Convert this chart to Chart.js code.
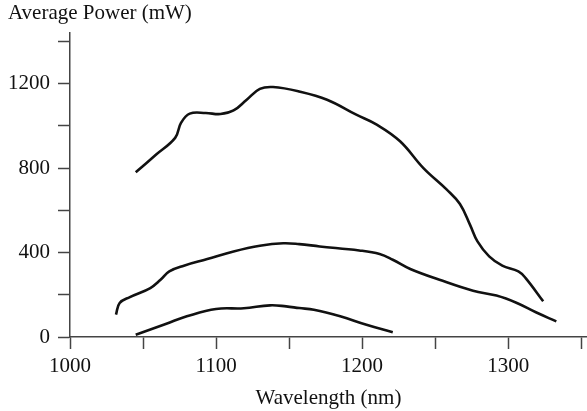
<!DOCTYPE html>
<html>
<head>
<meta charset="utf-8">
<script src="https://cdn.jsdelivr.net/npm/chart.js@4"></script>
<style>
  html, body { margin: 0; padding: 0; background: #fff; }
  #wrap { width: 587px; height: 411px; position: relative; }
</style>
</head>
<body>
<div id="wrap"><canvas id="powerChart"></canvas></div>
<script>
// Curve data (wavelength nm, power mW)
const topWave = [1045, 1059, 1072, 1076, 1082, 1093, 1103, 1112, 1121, 1130, 1139, 1157, 1176, 1196, 1210, 1226, 1242, 1258, 1267, 1274, 1279, 1287, 1296, 1307, 1312, 1324];
const topPower = [780, 864, 943, 1014, 1058, 1061, 1056, 1073, 1124, 1175, 1184, 1163, 1124, 1053, 1006, 927, 800, 698, 630, 530, 453, 382, 338, 311, 279, 169];

const midWave = [1031.5, 1034, 1041, 1055, 1062, 1068, 1078, 1094, 1112, 1130, 1146, 1157, 1171, 1198, 1212, 1221, 1233, 1253, 1276, 1292, 1306, 1319, 1333];
const midPower = [106, 161, 189, 232, 271, 311, 338, 369, 405, 432, 444, 440, 429, 410, 393, 366, 322, 271, 219, 196, 161, 117, 74];

const botWave = [1045, 1066, 1080, 1100, 1119, 1137, 1148, 1157, 1167, 1185, 1203, 1221];
const botPower = [11, 63, 98, 133, 136, 150, 145, 137, 129, 98, 58, 22];

const xTicks = [1000, 1050, 1100, 1150, 1200, 1250, 1300, 1350];
const xLabels = [1000, 1100, 1200, 1300];
const yTicks = [0, 200, 400, 600, 800, 1000, 1200, 1400];
const yLabels = [0, 400, 800, 1200];

const serif = { family: 'Liberation Serif', size: 21 };
const axisColor = '#444';

function pts(xs, ys) {
  return xs.map((x, i) => ({ x: x, y: ys[i] }));
}

function curve(xs, ys) {
  return {
    data: pts(xs, ys),
    showLine: true,
    borderColor: '#111',
    borderWidth: 2.6,
    pointRadius: 0,
    fill: false,
    tension: 0.4,
    borderCapStyle: 'butt'
  };
}

// y-axis caption sits above the plot, top-left
const captionPlugin = {
  id: 'caption',
  afterDraw(chart) {
    const ctx = chart.ctx;
    ctx.save();
    ctx.font = '21px "Liberation Serif"';
    ctx.fillStyle = '#111';
    ctx.textAlign = 'left';
    ctx.textBaseline = 'alphabetic';
    ctx.fillText('Average Power (mW)', 8, 19);
    ctx.restore();
  }
};

const ctx = document.getElementById('powerChart').getContext('2d');
new Chart(ctx, {
  type: 'scatter',
  data: {
    datasets: [curve(topWave, topPower), curve(midWave, midPower), curve(botWave, botPower)]
  },
  options: {
    responsive: true,
    maintainAspectRatio: false,
    animation: false,
    layout: { padding: { top: 33, right: 0, left: 0, bottom: 0 } },
    plugins: { legend: { display: false }, tooltip: { enabled: false } },
    scales: {
      x: {
        type: 'linear',
        min: 1000,
        max: 1354,
        afterBuildTicks: s => { s.ticks = xTicks.map(v => ({ value: v })); },
        afterFit: s => { s.height = 74; },
        ticks: {
          autoSkip: false,
          maxRotation: 0,
          padding: 5,
          color: '#111',
          font: serif,
          callback: v => xLabels.includes(v) ? String(v) : ''
        },
        grid: { drawOnChartArea: false, tickLength: 12, tickColor: axisColor, tickWidth: 1.5 },
        border: { color: axisColor, width: 1.5 },
        title: { display: true, text: 'Wavelength (nm)', color: '#111', font: serif, padding: { top: 0, bottom: 0 } }
      },
      y: {
        min: 0,
        max: 1440,
        afterBuildTicks: s => { s.ticks = yTicks.map(v => ({ value: v })); },
        afterFit: s => { s.width = 70; },
        ticks: {
          autoSkip: false,
          padding: 8,
          color: '#111',
          font: serif,
          callback: v => yLabels.includes(v) ? String(v) : ''
        },
        grid: { drawOnChartArea: false, tickLength: 12, tickColor: axisColor, tickWidth: 1.5 },
        border: { color: axisColor, width: 1.5 }
      }
    }
  },
  plugins: [captionPlugin]
});
</script>
</body>
</html>
